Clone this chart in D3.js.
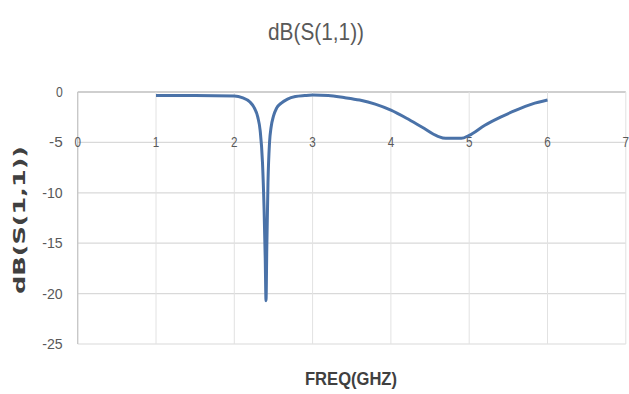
<!DOCTYPE html>
<html>
<head>
<meta charset="utf-8">
<script src="https://cdn.jsdelivr.net/npm/d3@7"></script>
<style>
  html, body { margin: 0; padding: 0; background: #fff; }
  svg { display: block; }
</style>
</head>
<body>
<svg id="chart" width="629" height="394"></svg>
<script>
// Return-loss sweep, frequency in GHz
const freq = [1.0, 1.5, 2.0, 2.1, 2.2, 2.25, 2.3, 2.33, 2.36, 2.38, 2.395, 2.405, 2.415, 2.43, 2.45, 2.47, 2.5, 2.54, 2.6, 2.68, 2.78, 2.9, 3.0, 3.2, 3.4, 3.6, 3.8, 4.0, 4.2, 4.4, 4.6, 4.7, 4.8, 4.9, 5.0, 5.2, 5.4, 5.6, 5.8, 6.0];
const s11 = [-0.35, -0.35, -0.4, -0.55, -1.0, -1.5, -2.5, -3.8, -7.0, -11.5, -16.5, -20.7, -15.5, -9.0, -5.0, -3.5, -2.4, -1.6, -1.1, -0.7, -0.45, -0.35, -0.3, -0.35, -0.55, -0.8, -1.2, -1.8, -2.6, -3.5, -4.4, -4.6, -4.6, -4.6, -4.3, -3.3, -2.5, -1.8, -1.2, -0.8];

const xTicks = [0, 1, 2, 3, 4, 5, 6, 7];
const yTicks = [0, -5, -10, -15, -20, -25];
const titleText = "dB(S(1,1))";
const xTitle = "FREQ(GHZ)";
const yTitle = "dB(S(1,1))";

const svg = d3.select("#chart");
const plot = { left: 77.7, right: 626, top: 92, bottom: 344 };

const x = d3.scaleLinear().domain([0, 7]).range([plot.left, plot.left + 7 * 78.3]);
const y = d3.scaleLinear().domain([0, -25]).range([plot.top, plot.bottom]);

const textGray = "#595959";
const gridGray = "#d9d9d9";

// horizontal gridlines
svg.append("g").selectAll("line").data(yTicks).join("line")
  .attr("x1", plot.left).attr("x2", x(7))
  .attr("y1", d => y(d)).attr("y2", d => y(d))
  .attr("stroke", d => d === 0 ? "#bfbfbf" : gridGray)
  .attr("stroke-width", d => d === 0 ? 1.5 : 1.2);

// vertical gridlines
svg.append("g").selectAll("line").data(xTicks).join("line")
  .attr("x1", d => x(d)).attr("x2", d => x(d))
  .attr("y1", plot.top).attr("y2", plot.bottom)
  .attr("stroke", d => d === 0 ? "#c8c8c8" : "#e2e2e2")
  .attr("stroke-width", d => d === 0 ? 1.4 : 1);

// y tick labels
svg.append("g").selectAll("text").data(yTicks).join("text")
  .attr("x", plot.left - 15).attr("y", d => y(d))
  .attr("dy", "0.35em")
  .attr("text-anchor", "end")
  .attr("font-family", "Liberation Sans, Arial, sans-serif")
  .attr("font-size", 14)
  .attr("fill", textGray)
  .attr("textLength", d => String(d).length * 6.8)
  .attr("lengthAdjust", "spacingAndGlyphs")
  .text(d => d);

// x tick labels sit on the -5 gridline
svg.append("g").selectAll("text").data(xTicks).join("text")
  .attr("x", d => x(d)).attr("y", y(-5))
  .attr("dy", "0.35em")
  .attr("text-anchor", "middle")
  .attr("font-family", "Liberation Sans, Arial, sans-serif")
  .attr("font-size", 14)
  .attr("fill", textGray)
  .attr("textLength", 6.5)
  .attr("lengthAdjust", "spacingAndGlyphs")
  .text(d => d);

// S11 trace
const line = d3.line()
  .x((d, i) => x(freq[i]))
  .y(d => y(d))
  .curve(d3.curveMonotoneX);

svg.append("path")
  .datum(s11)
  .attr("d", line)
  .attr("fill", "none")
  .attr("stroke", "#4a72a8")
  .attr("stroke-width", 3)
  .attr("stroke-linejoin", "round");

// chart title
svg.append("text")
  .attr("x", 316).attr("y", 40)
  .attr("text-anchor", "middle")
  .attr("font-family", "Liberation Sans, Arial, sans-serif")
  .attr("font-size", 24)
  .attr("fill", textGray)
  .attr("textLength", 96)
  .attr("lengthAdjust", "spacingAndGlyphs")
  .text(titleText);

// x axis title
svg.append("text")
  .attr("x", 351).attr("y", 385)
  .attr("text-anchor", "middle")
  .attr("font-family", "Liberation Sans, Arial, sans-serif")
  .attr("font-weight", "bold")
  .attr("font-size", 18)
  .attr("fill", "#404040")
  .attr("textLength", 92)
  .attr("lengthAdjust", "spacingAndGlyphs")
  .text(xTitle);

// y axis title
svg.append("text")
  .attr("transform", "translate(25,220) rotate(-90)")
  .attr("text-anchor", "middle")
  .attr("font-family", "DejaVu Sans, Verdana, sans-serif")
  .attr("font-weight", "bold")
  .attr("font-size", 15)
  .attr("fill", "#404040")
  .attr("textLength", 148)
  .attr("lengthAdjust", "spacingAndGlyphs")
  .text(yTitle);
</script>
</body>
</html>
